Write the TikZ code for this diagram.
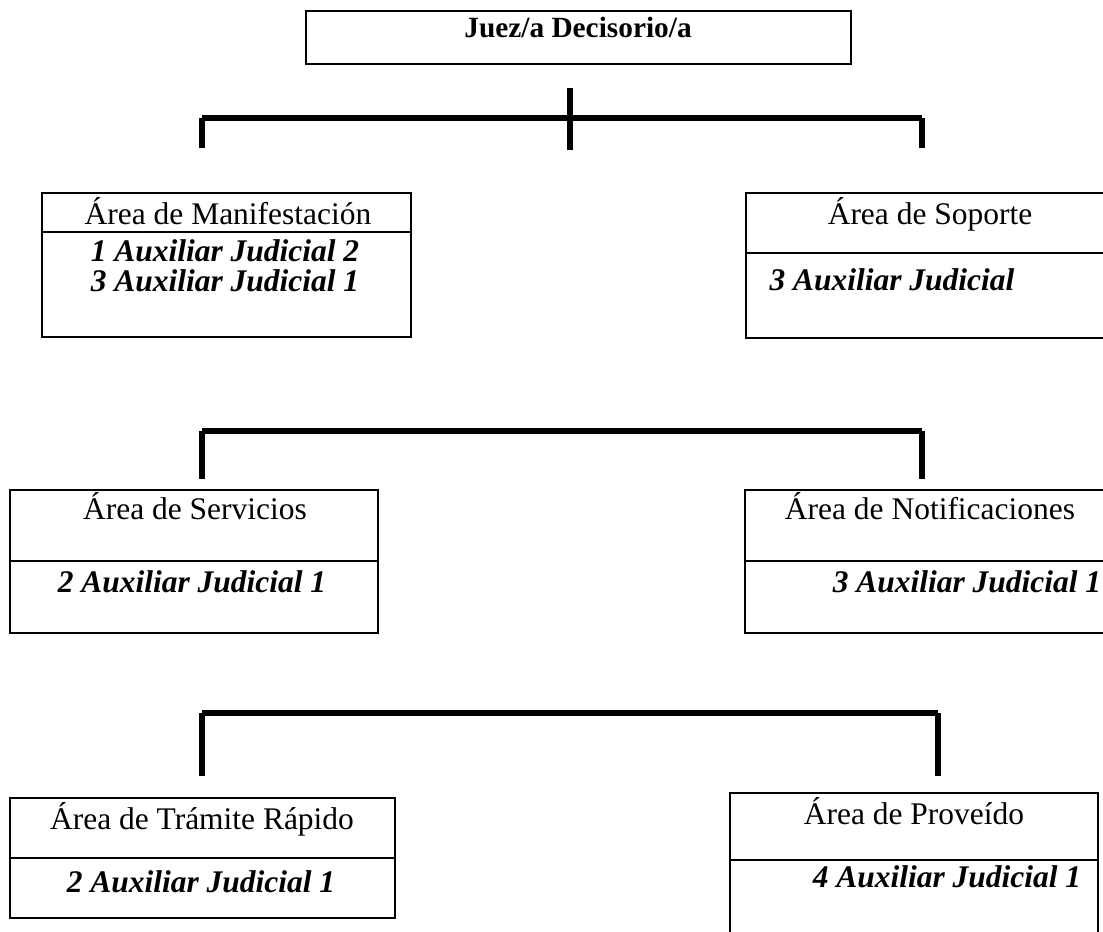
\documentclass[tikz,border=0pt]{standalone}
\usepackage{fontspec}
\setmainfont{Liberation Serif}
\usepackage{tikz}
\usetikzlibrary{positioning}
\newcommand{\unitpx}{0.375pt}

\begin{document}
\begin{tikzpicture}[x=0.375pt, y=-0.375pt,
    box/.style={draw, line width=0.8pt, inner sep=0pt, outer sep=0pt, anchor=north west},
    head/.style={font=\fontsize{11.8}{14}\selectfont, inner sep=0pt, anchor=base},
    staff/.style={font=\fontsize{11.8}{14}\selectfont\bfseries\itshape, inner sep=0pt, anchor=base},
    bar/.style={line width=2.4pt},
    leg/.style={line width=2pt}]
\useasboundingbox (0,0) rectangle (1103,932);
\clip (0,0) rectangle (1103,932);

% Juez/a
\node[box, minimum width=545*\unitpx, minimum height=53*\unitpx] (jefe) at (306,11) {};
\node[head, font=\fontsize{11}{13}\selectfont\bfseries] (jefeT) at (578,38) {Juez/a Decisorio/a};

% first bracket
\coordinate (b1s) at (570,88);
\coordinate (b1e) at (570,150);
\coordinate (b1l) at (202,118);
\coordinate (b1r) at (922,118);
\coordinate (b1lx) at (202,148);
\coordinate (b1rx) at (922,148);
\draw[leg] (b1s) -- (b1e);
\draw[bar] (b1l) -- (b1r);
\draw[leg] (b1l) -- (b1lx);
\draw[leg] (b1r) -- (b1rx);

% Manifestacion / Soporte
\node[box, minimum width=369*\unitpx, minimum height=39*\unitpx] (manif) at (42,193) {};
\node[box, below=0pt of manif, minimum width=369*\unitpx, minimum height=105*\unitpx] (manifP) {};
\node[head] (manifT) at (228,225) {Área de Manifestación};
\node[staff] (manifS1) at (225,262) {1 Auxiliar Judicial 2};
\node[staff] (manifS2) at (225,292) {3 Auxiliar Judicial 1};

\node[box, minimum width=368*\unitpx, minimum height=60*\unitpx] (soporte) at (746,193) {};
\node[box, below=0pt of soporte, minimum width=368*\unitpx, minimum height=85*\unitpx] (soporteP) {};
\node[head] (soporteT) at (930,225) {Área de Soporte};
\node[staff, anchor=base west] (soporteS) at (769,291) {3 Auxiliar Judicial};

% second bracket
\coordinate (b2l) at (202,431);
\coordinate (b2r) at (922,431);
\coordinate (b2lx) at (202,479);
\coordinate (b2rx) at (922,479);
\draw[bar] (b2l) -- (b2r);
\draw[leg] (b2l) -- (b2lx);
\draw[leg] (b2r) -- (b2rx);

% Servicios / Notificaciones
\node[box, minimum width=368*\unitpx, minimum height=71*\unitpx] (serv) at (10,490) {};
\node[box, below=0pt of serv, minimum width=368*\unitpx, minimum height=72*\unitpx] (servP) {};
\node[head] (servT) at (195,520) {Área de Servicios};
\node[staff] (servS) at (192,593) {2 Auxiliar Judicial 1};

\node[box, minimum width=370*\unitpx, minimum height=71*\unitpx] (notif) at (745,490) {};
\node[box, below=0pt of notif, minimum width=370*\unitpx, minimum height=72*\unitpx] (notifP) {};
\node[head] (notifT) at (930,520) {Área de Notificaciones};
\node[staff] (notifS) at (967,593) {3 Auxiliar Judicial 1};

% third bracket
\coordinate (b3l) at (202,713);
\coordinate (b3r) at (938,713);
\coordinate (b3lx) at (202,776);
\coordinate (b3rx) at (938,776);
\draw[bar] (b3l) -- (b3r);
\draw[leg] (b3l) -- (b3lx);
\draw[leg] (b3r) -- (b3rx);

% Tramite Rapido / Proveido
\node[box, minimum width=385*\unitpx, minimum height=60*\unitpx] (tram) at (10,798) {};
\node[box, below=0pt of tram, minimum width=385*\unitpx, minimum height=60*\unitpx] (tramP) {};
\node[head] (tramT) at (202,829) {Área de Trámite Rápido};
\node[staff] (tramS) at (201,892) {2 Auxiliar Judicial 1};

\node[box, minimum width=368*\unitpx, minimum height=67*\unitpx] (prov) at (730,793) {};
\node[box, below=0pt of prov, minimum width=368*\unitpx, minimum height=100*\unitpx] (provP) {};
\node[head] (provT) at (914,825) {Área de Proveído};
\node[staff] (provS) at (947,888) {4 Auxiliar Judicial 1};
\end{tikzpicture}
\end{document}
